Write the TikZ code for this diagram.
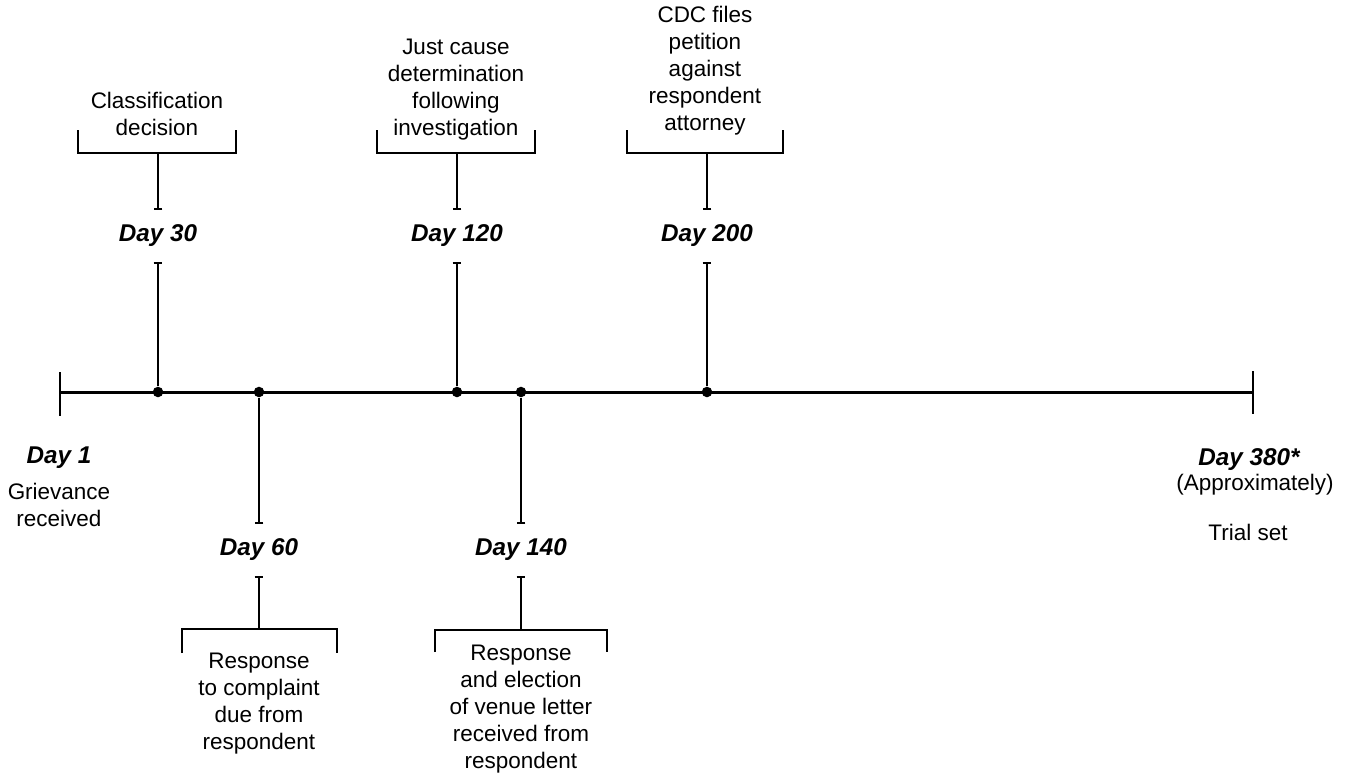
\documentclass[tikz,border=0pt]{standalone}
\usepackage{fontspec}
\setmainfont{Liberation Sans}
\usetikzlibrary{arrows.meta}

\begin{document}
\begin{tikzpicture}[x=0.02cm, y=-0.02cm,
    daylabel/.style={font=\fontsize{13.8}{16}\selectfont\bfseries\itshape, inner sep=0pt, minimum height=1.04cm},
    note/.style={align=center, font=\fontsize{12.8}{15.3}\selectfont, inner sep=0pt},
    dot/.style={circle, fill=black, inner sep=0pt, minimum size=6pt},
    timeline/.style={line width=1.7pt},
    stem/.style={line width=1.2pt, -{Bar[width=5pt, line width=1.1pt]}},
    bracket/.style={line width=1.4pt}]
        \useasboundingbox (0,0) rectangle (1350,775);

        % Timeline
        \coordinate (start) at (60,392);
        \coordinate (end) at (1253,392);
        \draw[timeline] (start) -- (end);
        \draw[line width=1.3pt] (start) ++(0,-20) -- ++(0,44);
        \draw[line width=1.3pt] (end) ++(0,-21) -- ++(0,43);

        % Nodes
        \node[dot] (d30) at (158,392) {};
        \node[dot] (d60) at (259,392) {};
        \node[dot] (d120) at (457,392) {};
        \node[dot] (d140) at (521,392) {};
        \node[dot] (d200) at (707,392) {};

        \node[daylabel] (day30) at (158,236) {Day 30};
        \node[daylabel] (day120) at (457,236) {Day 120};
        \node[daylabel] (day200) at (707,236) {Day 200};
        \node[daylabel] (day60) at (259,550) {Day 60};
        \node[daylabel] (day140) at (521,550) {Day 140};

        \node[note, anchor=south, text depth=3pt] (t30) at (157,141) {Classification\\decision};
        \node[note, anchor=south, text depth=3pt] (t120) at (456,141) {Just cause\\determination\\following\\investigation};
        \node[note, anchor=south, text depth=3pt] (t200) at (705,136) {CDC files\\petition\\against\\respondent\\attorney};
        \node[note, anchor=north] (t60) at (259,653) {Response\\to complaint\\due from\\respondent};
        \node[note, anchor=north] (t140) at (521,645) {Response\\and election\\of venue letter\\received from\\respondent};

        \node[daylabel, minimum height=0pt] (day1) at (59,458) {Day 1};
        \node[note, anchor=north] (t1) at (59,483) {Grievance\\received};
        \node[daylabel, minimum height=0pt] (day380) at (1249,460) {Day 380*};
        \node[note] (approx) at (1255,485) {(Approximately)};
        \node[note] (trial) at (1248,532) {Trial set};

        % Brackets
        \coordinate (b30) at (158,153);
        \coordinate (b120) at (457,153);
        \coordinate (b200) at (707,153);
        \coordinate (b60) at (259,629);
        \coordinate (b140) at (521,630);
        \draw[bracket] (b30) ++(-80,-23) -- ++(0,23) -- ++(158,0) -- ++(0,-23);
        \draw[bracket] (b120) ++(-80,-23) -- ++(0,23) -- ++(158,0) -- ++(0,-23);
        \draw[bracket] (b200) ++(-80,-23) -- ++(0,23) -- ++(156,0) -- ++(0,-23);
        \draw[bracket] (b60) ++(-77,24) -- ++(0,-24) -- ++(155,0) -- ++(0,24);
        \draw[bracket] (b140) ++(-86,22) -- ++(0,-22) -- ++(172,0) -- ++(0,22);

        % Edges
        \draw[stem] (d30) -- (day30.south);
        \draw[stem] (b30) -- (day30.north);
        \draw[stem] (d120) -- (day120.south);
        \draw[stem] (b120) -- (day120.north);
        \draw[stem] (d200) -- (day200.south);
        \draw[stem] (b200) -- (day200.north);
        \draw[stem] (d60) -- (day60.north);
        \draw[stem] (b60) -- (day60.south);
        \draw[stem] (d140) -- (day140.north);
        \draw[stem] (b140) -- (day140.south);
    \end{tikzpicture}
\end{document}
